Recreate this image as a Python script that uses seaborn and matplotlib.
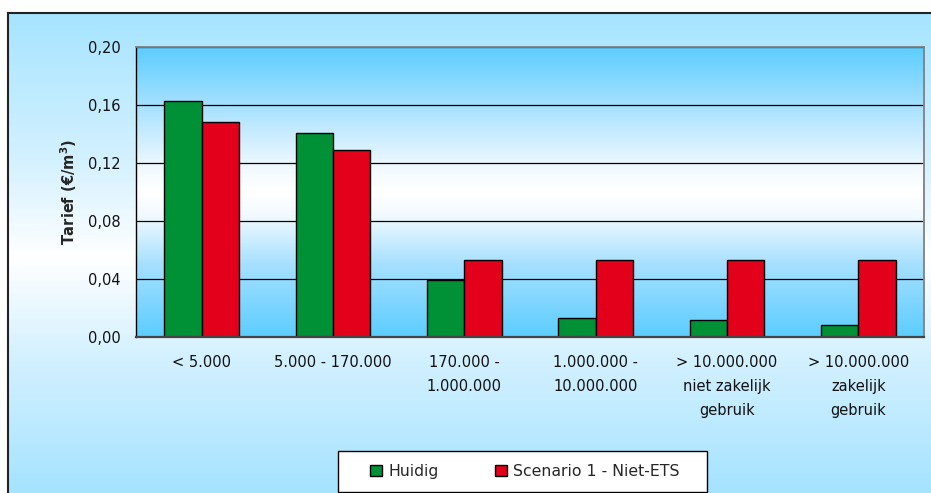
import numpy as np
import pandas as pd
import matplotlib
matplotlib.use("Agg")
import matplotlib.pyplot as plt
import seaborn as sns
from matplotlib.colors import LinearSegmentedColormap
from matplotlib.patches import Rectangle
from matplotlib.ticker import FuncFormatter

# data
categories = ["< 5.000", "5.000 - 170.000", "170.000 -\n1.000.000",
              "1.000.000 -\n10.000.000", "> 10.000.000\nniet zakelijk\ngebruik",
              "> 10.000.000\nzakelijk\ngebruik"]
huidig = [0.163, 0.141, 0.039, 0.013, 0.012, 0.008]
scenario = [0.148, 0.129, 0.053, 0.053, 0.053, 0.053]
series_names = ["Huidig", "Scenario 1 - Niet-ETS"]
bar_colors = ["#009035", "#e2001a"]
yticks = [0.0, 0.04, 0.08, 0.12, 0.16, 0.20]

df = pd.DataFrame({
    "cat": categories * 2,
    "value": huidig + scenario,
    "serie": [series_names[0]] * len(categories) + [series_names[1]] * len(categories),
})

sns.set_style("white")
plt.rcParams["font.family"] = ["DejaVu Sans"]
plt.rcParams["font.size"] = 10.5

W, H = 931, 493
fig = plt.figure(figsize=(W / 100, H / 100), dpi=100)
fig.patch.set_facecolor("white")

# achtergrond van de grafiek (gradient licht blauw - wit - licht blauw)
bg = fig.add_axes([8 / W, -0.02, 1 - 8 / W + 0.02, 1 - 13 / H + 0.02], zorder=-5)
bg_cmap = LinearSegmentedColormap.from_list(
    "bg", [(0, "#a2e2ff"), (0.3, "#d4f1ff"), (0.5, "#ffffff"), (0.7, "#d4f1ff"), (1, "#a6e4ff")])
bg.imshow(np.linspace(0, 1, 256).reshape(-1, 1), cmap=bg_cmap, aspect="auto",
          extent=[0, 1, 0, 1], origin="lower")
bg.set_xticks([])
bg.set_yticks([])
for side in ["right", "bottom"]:
    bg.spines[side].set_visible(False)
for side in ["left", "top"]:
    bg.spines[side].set_color("#222222")
    bg.spines[side].set_linewidth(1.5)

# plot gebied
left, right, top, bottom = 136, 924, 47, 337
ax = fig.add_axes([left / W, 1 - bottom / H, (right - left) / W, (bottom - top) / H])
plot_cmap = LinearSegmentedColormap.from_list(
    "plot", [(0, "#5ccdff"), (0.25, "#a6e0ff"), (0.42, "#f2faff"), (0.5, "#ffffff"),
             (0.58, "#f2faff"), (0.75, "#b8e6ff"), (1, "#5ccdff")])
ax.imshow(np.linspace(0, 1, 256).reshape(-1, 1), cmap=plot_cmap, aspect="auto",
          extent=[-0.5, len(categories) - 0.5, 0, 0.20], origin="lower", zorder=0)

sns.barplot(data=df, x="cat", y="value", hue="serie", palette=bar_colors,
            width=0.57, edgecolor="black", linewidth=1, saturation=1, ax=ax)

handles, labels = ax.get_legend_handles_labels()
ax.get_legend().remove()

ax.set_xlim(-0.5, len(categories) - 0.5)
ax.set_ylim(0, 0.20)
ax.set_yticks(yticks)
ax.yaxis.set_major_formatter(FuncFormatter(lambda v, p: f"{v:.2f}".replace(".", ",")))
ax.set_axisbelow(True)
ax.yaxis.grid(True, color="black", linewidth=0.9)
ax.xaxis.grid(False)

ax.set_xlabel("")
ax.set_ylabel(r"Tarief (€/m$^{\mathbf{3}}$)", fontweight="bold", fontsize=10.5)
ax.yaxis.set_label_coords(-0.072, 0.5)

ax.set_xticks(range(len(categories)))
ax.set_xticklabels(categories, linespacing=1.75, ha="center")
ax.set_xticks(np.arange(-0.5, len(categories)), minor=True)
ax.tick_params(axis="x", which="major", length=0, pad=13, colors="black")
ax.tick_params(axis="x", which="minor", length=5, width=1, direction="out", color="#333333")
ax.tick_params(axis="y", length=5, width=1, direction="out", pad=6, color="black")
ax.tick_params(axis="both", labelsize=10.5, labelcolor="#111111")

ax.spines["left"].set_color("black")
ax.spines["left"].set_linewidth(1)
ax.spines["bottom"].set_color("#444444")
ax.spines["bottom"].set_linewidth(1.6)
for side in ["top", "right"]:
    ax.spines[side].set_visible(True)
    ax.spines[side].set_color("#808080")
    ax.spines[side].set_linewidth(1.3)

# legenda onderaan met eigen kader
fig.patches.append(Rectangle((338 / W, 1 - 492 / H), (707 - 338) / W, (492 - 451) / H,
                             transform=fig.transFigure, facecolor="white",
                             edgecolor="black", linewidth=1, zorder=1))
leg = fig.legend(handles, labels, loc="center", bbox_to_anchor=(525 / W, 1 - 471.5 / H),
                 ncol=2, frameon=False, handlelength=0.75, handleheight=0.75,
                 handletextpad=0.4, columnspacing=3.6, fontsize=11.3)
leg.set_zorder(2)

fig.savefig("out.png", dpi=100)
